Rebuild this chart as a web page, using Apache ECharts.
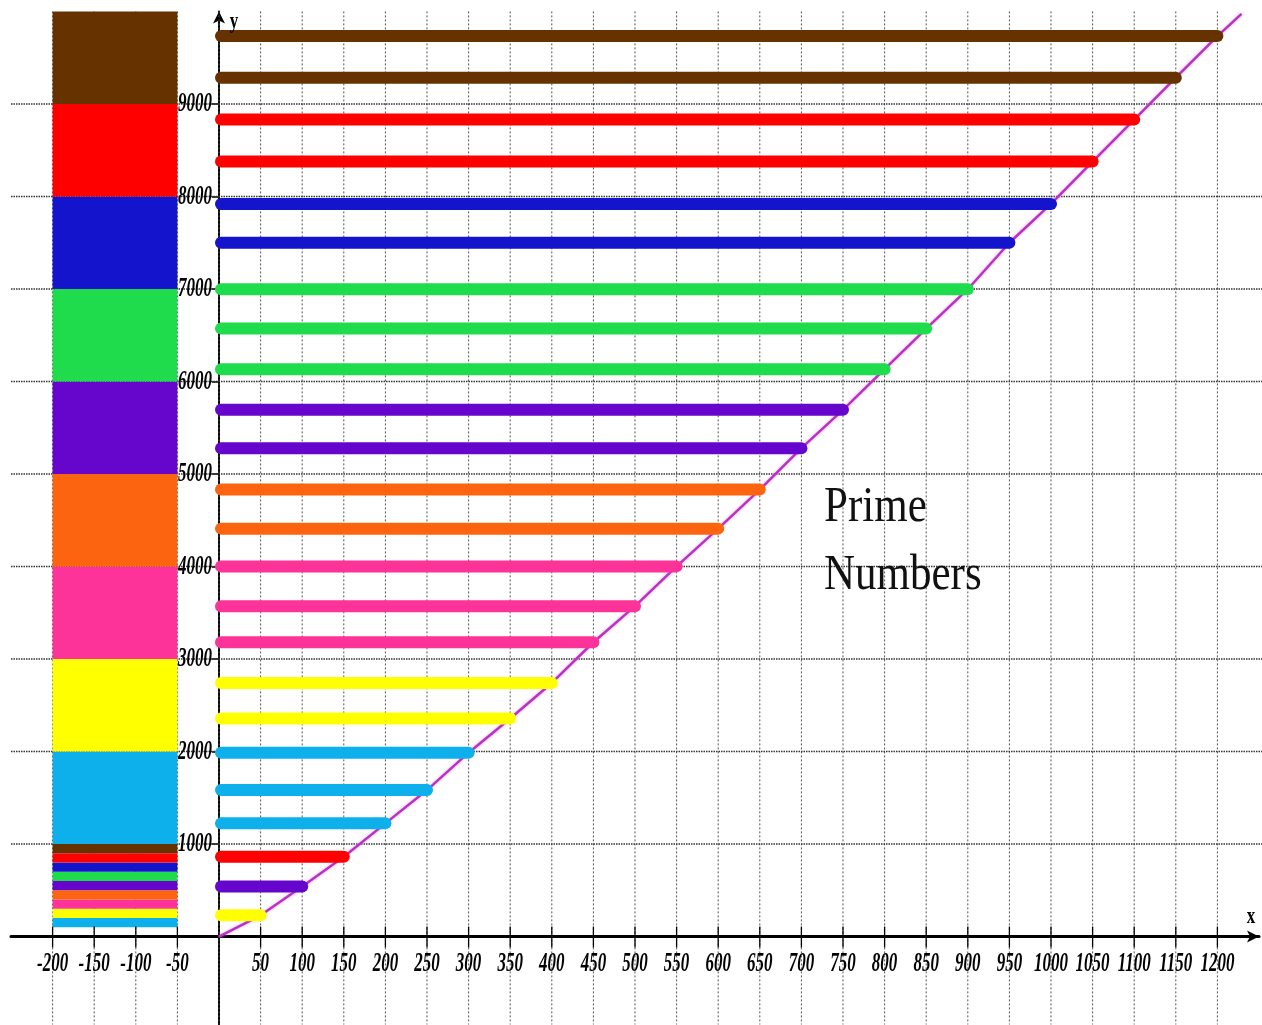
<!DOCTYPE html>
<html>
<head>
<meta charset="utf-8">
<script src="https://cdn.jsdelivr.net/npm/echarts@6/dist/echarts.min.js"></script>
<style>
html,body{margin:0;padding:0;background:#fff;}
#chart{width:1262px;height:1025px;}
</style>
</head>
<body>
<div id="chart"></div>
<script>
// ---- data ----
const primeIndex = [50,100,150,200,250,300,350,400,450,500,550,600,650,700,750,800,850,900,950,1000,1050,1100,1150,1200];
const primeValue = [229,541,863,1223,1583,1987,2357,2741,3181,3571,4001,4409,4831,5279,5693,6133,6571,6997,7499,7919,8377,8831,9283,9733];
const barColorName = ['yellow','purple','red','cyan','cyan','cyan','yellow','yellow','pink','pink','pink','orange','orange','purple','purple','green','green','green','blue','blue','red','red','brown','brown'];
const curveStart = [0, 0];
const curveEnd = [1229, 9973];
const blockColorOrder = ['cyan','yellow','pink','orange','purple','green','blue','red','brown'];
const bigBlockEdges = [1000,2000,3000,4000,5000,6000,7000,8000,9000,10000];
const stripeEdges = [100,200,300,400,500,600,700,800,900,1000];
const blockXRange = [-200, -50];
const xTickLabels = [-200,-150,-100,-50,50,100,150,200,250,300,350,400,450,500,550,600,650,700,750,800,850,900,950,1000,1050,1100,1150,1200];
const yTickLabels = [1000,2000,3000,4000,5000,6000,7000,8000,9000];
const xGridValues = [-200,-150,-100,-50,0,50,100,150,200,250,300,350,400,450,500,550,600,650,700,750,800,850,900,950,1000,1050,1100,1150,1200];
const yGridValues = [1000,2000,3000,4000,5000,6000,7000,8000,9000];

const palette = {
  cyan:'#0db0ea', yellow:'#ffff00', pink:'#fd3399', orange:'#fd6410',
  purple:'#6606cc', green:'#1edc4c', blue:'#1414cc', red:'#ff0000', brown:'#663300'
};

const X_MIN = -250, X_MAX = 1250, Y_MIN = -950, Y_MAX = 10000;
const labelFont = 'italic bold 17px "Liberation Serif", "DejaVu Serif", serif';

// built tables
const barData = primeIndex.map((n, i) => [n, primeValue[i], i]);
const curveData = [curveStart].concat(primeIndex.map((n, i) => [n, primeValue[i]])).concat([curveEnd]);
function blocksFrom(edges) {
  const out = [];
  for (let i = 0; i < edges.length - 1; i++) out.push([edges[i], edges[i + 1], i]);
  return out;
}
const blockData = blocksFrom(bigBlockEdges).concat(blocksFrom(stripeEdges));

const chart = echarts.init(document.getElementById('chart'), null, {renderer: 'canvas'});

const option = {
  animation: false,
  backgroundColor: '#ffffff',
  grid: {left: 11, top: 11.4, width: 1248, height: 1013, containLabel: false},
  xAxis: [{
    type: 'value', min: X_MIN, max: X_MAX,
    axisLine: {show: true, onZero: true, symbol: ['none', 'arrow'], symbolSize: [9, 12],
      lineStyle: {color: '#000', width: 3}},
    axisTick: {show: false},
    axisLabel: {show: false},
    splitLine: {show: false}
  }],
  yAxis: [{
    type: 'value', min: Y_MIN, max: Y_MAX,
    axisLine: {show: true, onZero: true, symbol: ['none', 'arrow'], symbolSize: [9, 12],
      lineStyle: {color: '#000', width: 2}},
    axisTick: {show: true, length: 7, customValues: yTickLabels, lineStyle: {color: '#000', width: 1.5}},
    axisLabel: {show: false},
    splitLine: {show: false}
  }],
  series: [
    {
      name: 'grid-v', type: 'custom', silent: true, z: 1,
      data: xGridValues.map(v => [v, 0]),
      renderItem: function (params, api) {
        const v = api.value(0);
        const p1 = api.coord([v, Y_MAX]);
        const p2 = api.coord([v, Y_MIN]);
        return {type: 'line', shape: {x1: p1[0], y1: p1[1], x2: p2[0], y2: p2[1]},
          style: {stroke: '#555', lineWidth: 1, lineDash: [2, 2]}};
      }
    },
    {
      name: 'grid-h', type: 'custom', silent: true, z: 1,
      data: yGridValues.map(v => [0, v]),
      renderItem: function (params, api) {
        const v = api.value(1);
        const p1 = api.coord([X_MIN, v]);
        const p2 = api.coord([X_MAX, v]);
        return {type: 'line', shape: {x1: p1[0], y1: p1[1], x2: p2[0] + 4, y2: p2[1]},
          style: {stroke: '#333', lineWidth: 1.5, lineDash: [1.5, 1]}};
      }
    },
    {
      name: 'blocks', type: 'custom', silent: true, z: 2,
      data: blockData,
      renderItem: function (params, api) {
        const lo = api.value(0), hi = api.value(1), ci = api.value(2);
        const a = api.coord([blockXRange[0], hi]);
        const b = api.coord([blockXRange[1], lo]);
        return {type: 'rect', shape: {x: a[0], y: a[1], width: b[0] - a[0], height: b[1] - a[1]},
          style: {fill: palette[blockColorOrder[ci]]}};
      }
    },
    {
      name: 'prime curve', type: 'line', z: 3,
      data: curveData, showSymbol: false, smooth: false,
      lineStyle: {color: '#b832c4', width: 2.5, shadowColor: 'rgba(235,130,235,0.7)', shadowBlur: 3}
    },
    {
      name: 'bars', type: 'custom', z: 4,
      data: barData,
      renderItem: function (params, api) {
        const n = api.value(0), p = api.value(1), i = api.value(2);
        const a = api.coord([0, p]);
        const b = api.coord([n, p]);
        return {type: 'line', shape: {x1: a[0] + 2, y1: a[1], x2: b[0], y2: b[1]},
          style: {stroke: palette[barColorName[i]], lineWidth: 12, lineCap: 'round'}};
      }
    },
    {
      name: 'x ticks', type: 'custom', silent: true, z: 5,
      data: xTickLabels.map(v => [v, 0]),
      renderItem: function (params, api) {
        const p = api.coord([api.value(0), 0]);
        return {type: 'line', shape: {x1: p[0], y1: p[1] - 10, x2: p[0], y2: p[1] + 11},
          style: {stroke: '#000', lineWidth: 1.3}};
      }
    },
    {
      name: 'x labels', type: 'custom', silent: true, z: 5,
      data: xTickLabels.map(v => [v, 0]),
      renderItem: function (params, api) {
        const v = api.value(0);
        const p = api.coord([v, 0]);
        return {type: 'text', x: p[0], y: p[1] + 13, scaleY: 1.65,
          style: {text: String(v), font: labelFont, fill: '#000', align: 'center', verticalAlign: 'top'}};
      }
    },
    {
      name: 'y labels', type: 'custom', silent: true, z: 5,
      data: yTickLabels.map(v => [0, v]),
      renderItem: function (params, api) {
        const v = api.value(1);
        const p = api.coord([0, v]);
        return {type: 'text', x: p[0] - 7, y: p[1], scaleY: 1.65,
          style: {text: String(v), font: labelFont, fill: '#000', align: 'right', verticalAlign: 'middle'}};
      }
    }
  ],
  graphic: [
    {type: 'text', x: 1251, y: 917, scaleY: 1.3, z: 10,
      style: {text: 'x', font: 'bold 17px "Liberation Serif", serif', fill: '#000', align: 'center', verticalAlign: 'middle'}},
    {type: 'text', x: 234, y: 22, scaleY: 1.3, z: 10,
      style: {text: 'y', font: 'bold 17px "Liberation Serif", serif', fill: '#000', align: 'center', verticalAlign: 'middle'}},
    {type: 'text', x: 824, y: 508, scaleY: 1.18, z: 10,
      style: {text: 'Prime', font: '43px "Liberation Serif", serif', fill: '#111', align: 'left', verticalAlign: 'middle'}},
    {type: 'text', x: 824, y: 576, scaleY: 1.18, z: 10,
      style: {text: 'Numbers', font: '43px "Liberation Serif", serif', fill: '#111', align: 'left', verticalAlign: 'middle'}}
  ]
};
chart.setOption(option);
</script>
</body>
</html>
